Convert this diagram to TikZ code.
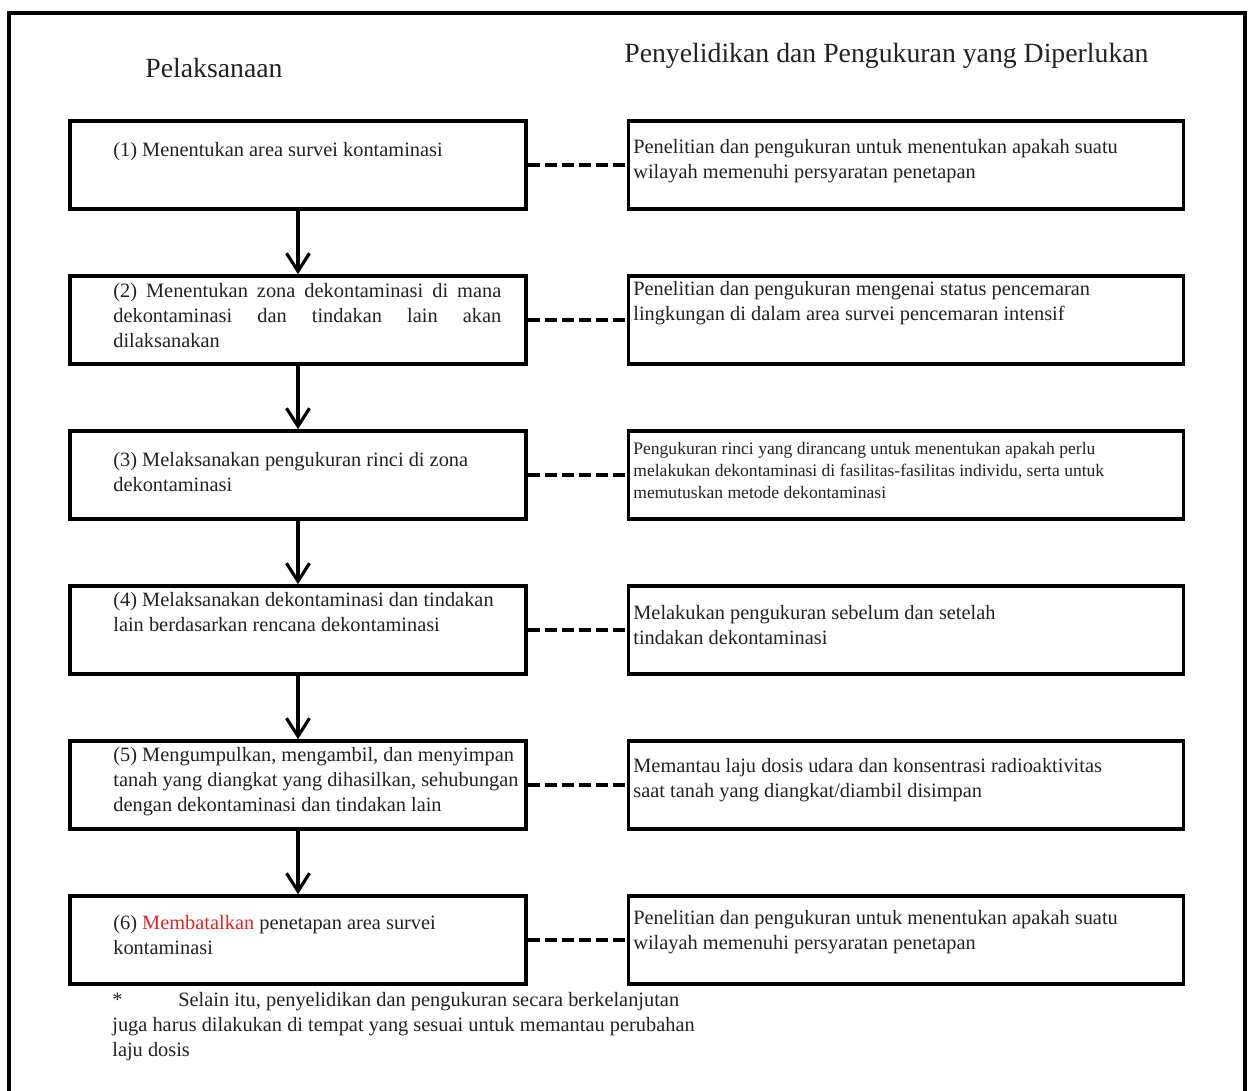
\documentclass[tikz,border=0pt]{standalone}
\usepackage{fontspec}
\setmainfont{Liberation Serif}
\usepackage{tikz}
\usetikzlibrary{positioning}
\usetikzlibrary{arrows.meta}
\definecolor{batalred}{RGB}{228,38,38}
\definecolor{textgray}{RGB}{34,34,34}

\begin{document}
\begin{tikzpicture}[x = 0.02cm, y = -0.02cm]
\tikzstyle{FrameStyle} = [line width=1.8pt, color=black]
\tikzstyle{BoxStyle} = [shape = rectangle, draw, line width = 2.1pt, minimum height = 1.76cm, inner sep = 0pt]
\tikzstyle{leftBox} = [BoxStyle, minimum width = 9.12cm]
\tikzstyle{rightBox} = [BoxStyle, minimum width = 11.1cm]
\tikzstyle{TitleStyle} = [anchor = base west, inner sep = 0pt, text = textgray, font = \fontsize{15.8}{18}\selectfont]
\tikzstyle{TextStyle} = [anchor = base west, inner sep = 0pt, text width = 8.4cm, align = flush left, text = textgray, font = \fontsize{11.6}{14.4}\selectfont]
\tikzstyle{RightTextStyle} = [TextStyle, text width = 10.8cm]
\tikzstyle{SmallTextStyle} = [RightTextStyle, font = \fontsize{10}{12.6}\selectfont]
\tikzstyle{NoteStyle} = [TextStyle, text width = 13cm]
\tikzstyle{StepEdge} = [line width = 1.8pt, -{Straight Barb[length = 0.36cm, width = 0.46cm]}]
\tikzstyle{DashEdge} = [line width = 2.2pt, dash pattern = on 0.24cm off 0.1cm]
\useasboundingbox (0,0) rectangle (1249,1090);
\fill[white] (0,0) rectangle (1249,1090);
\draw[FrameStyle] (9,1100) -- (9,13) -- (1245,13) -- (1245,1100);
% titles
\node[TitleStyle] (tp) at (145,77) {Pelaksanaan};
\node[TitleStyle] (tm) at (624,62) {Penyelidikan dan Pengukuran yang Diperlukan};
% boxes
\node[leftBox] (p1) at (298,165) {};
\node[leftBox] (p2) at (298,320) {};
\node[leftBox] (p3) at (298,475) {};
\node[leftBox] (p4) at (298,630) {};
\node[leftBox] (p5) at (298,785) {};
\node[leftBox] (p6) at (298,940) {};
\node[rightBox] (m1) at (906,165) {};
\node[rightBox] (m2) at (906,320) {};
\node[rightBox] (m3) at (906,475) {};
\node[rightBox] (m4) at (906,630) {};
\node[rightBox] (m5) at (906,785) {};
\node[rightBox] (m6) at (906,940) {};
% texts of the steps
\node[TextStyle] (tp1) at (113,156) {(1) Menentukan area survei kontaminasi};
\node[TextStyle, text width = 7.76cm, align = justify] (tp2) at (113,297) {(2) Menentukan zona dekontaminasi di mana\linebreak dekontaminasi dan tindakan lain akan\linebreak dilaksanakan};
\node[TextStyle] (tp3) at (113,466) {(3) Melaksanakan pengukuran rinci di zona\\dekontaminasi};
\node[TextStyle] (tp4) at (113,606) {(4) Melaksanakan dekontaminasi dan tindakan\\lain berdasarkan rencana dekontaminasi};
\node[TextStyle] (tp5) at (113,761) {(5) Mengumpulkan, mengambil, dan menyimpan\\tanah yang diangkat yang dihasilkan, sehubungan\\dengan dekontaminasi dan tindakan lain};
\node[TextStyle] (tp6) at (113,929) {(6) \textcolor{batalred}{Membatalkan} penetapan area survei\\kontaminasi};
% texts of the measurements
\node[RightTextStyle] (tm1) at (633,153) {Penelitian dan pengukuran untuk menentukan apakah suatu\\wilayah memenuhi persyaratan penetapan};
\node[RightTextStyle] (tm2) at (633,295) {Penelitian dan pengukuran mengenai status pencemaran\\lingkungan di dalam area survei pencemaran intensif};
\node[SmallTextStyle] (tm3) at (633,454) {Pengukuran rinci yang dirancang untuk menentukan apakah perlu\\melakukan dekontaminasi di fasilitas-fasilitas individu, serta untuk\\memutuskan metode dekontaminasi};
\node[RightTextStyle] (tm4) at (633,619) {Melakukan pengukuran sebelum dan setelah\\tindakan dekontaminasi};
\node[RightTextStyle] (tm5) at (633,772) {Memantau laju dosis udara dan konsentrasi radioaktivitas\\saat tanah yang diangkat/diambil disimpan};
\node[RightTextStyle] (tm6) at (633,924) {Penelitian dan pengukuran untuk menentukan apakah suatu\\wilayah memenuhi persyaratan penetapan};
% footnote
\node[NoteStyle] (note) at (112,1006) {\makebox[1.32cm][l]{*}Selain itu, penyelidikan dan pengukuran secara berkelanjutan\\juga harus dilakukan di tempat yang sesuai untuk memantau perubahan\\laju dosis};
% edges
\draw[StepEdge] (p1) -- (p2);
\draw[StepEdge] (p2) -- (p3);
\draw[StepEdge] (p3) -- (p4);
\draw[StepEdge] (p4) -- (p5);
\draw[StepEdge] (p5) -- (p6);
\draw[DashEdge] (p1) -- (m1);
\draw[DashEdge] (p2) -- (m2);
\draw[DashEdge] (p3) -- (m3);
\draw[DashEdge] (p4) -- (m4);
\draw[DashEdge] (p5) -- (m5);
\draw[DashEdge] (p6) -- (m6);
\end{tikzpicture}
\end{document}
